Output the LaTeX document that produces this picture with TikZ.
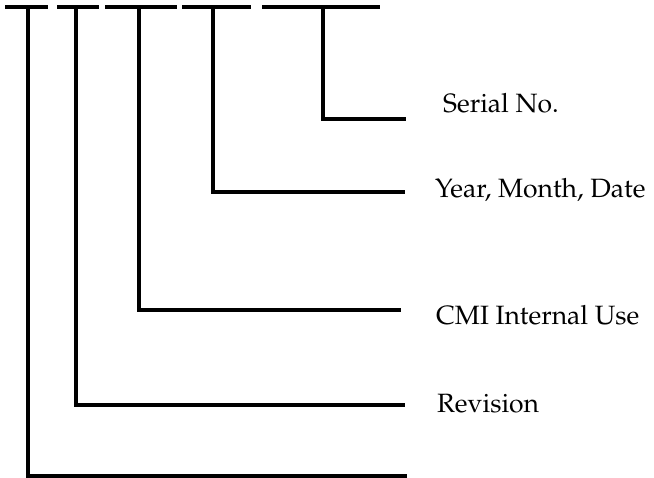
\documentclass[tikz,border=0pt]{standalone}
\usepackage[T1]{fontenc}
\usepackage{mathpazo}
\usepackage{tikz}

\tikzset{
  bar/.style={line width=4pt},
  lead/.style={line width=3.5pt},
  field/.style={anchor=base west, inner sep=0pt, font=\fontsize{26.5}{30}\selectfont}
}

\begin{document}
\begin{tikzpicture}[x=1pt,y=-1pt]
\useasboundingbox (0,0) rectangle (654,478);
% part number fields
\draw[bar] (5,7) -- (48,7);
\draw[bar] (57,7) -- (99,7);
\draw[bar] (105,7) -- (177,7);
\draw[bar] (182,7) -- (251,7);
\draw[bar] (262,7) -- (380,7);
\coordinate (f1) at (28,7);
\coordinate (f2) at (76,7);
\coordinate (f3) at (139,7);
\coordinate (f4) at (213,7);
\coordinate (f5) at (323,7);
% line ends
\coordinate (e5) at (406,119);
\coordinate (e4) at (405,192);
\coordinate (e3) at (401,310);
\coordinate (e2) at (405,405);
\coordinate (e1) at (407,476);
% labels
\node[field] (serial) at (443,113) {Serial No.};
\node[field] (ymd) at (435,198) {Year, Month, Date};
\node[field] (cmi) at (436,325) {CMI Internal Use};
\node[field] (rev) at (437,413) {Revision};
% leads
\draw[lead] (f5) |- (e5);
\draw[lead] (f4) |- (e4);
\draw[lead] (f3) |- (e3);
\draw[lead] (f2) |- (e2);
\draw[lead] (f1) |- (e1);
\end{tikzpicture}
\end{document}
